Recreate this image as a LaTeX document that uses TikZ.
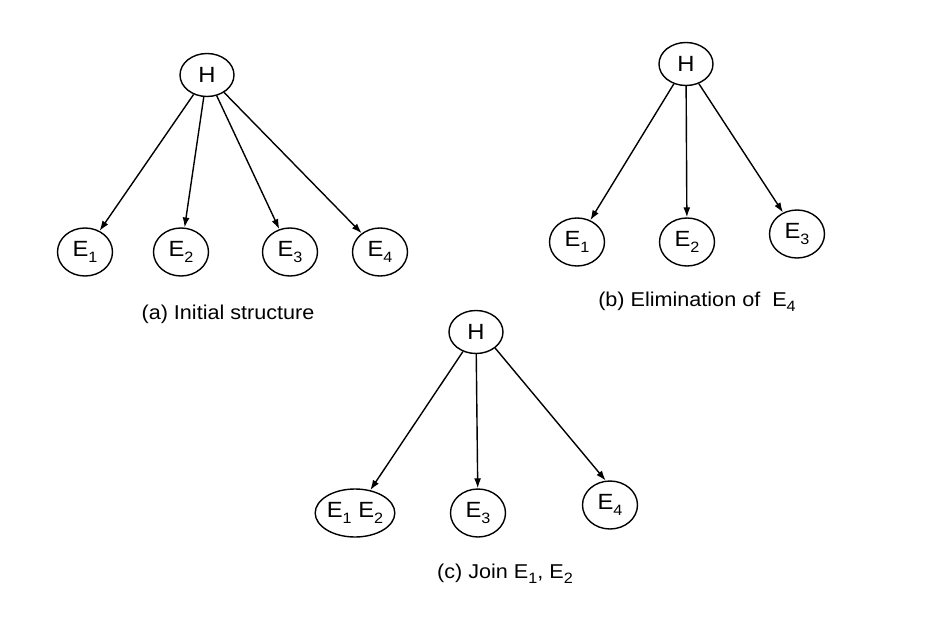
\documentclass[tikz,border=0pt]{standalone}
\usepackage{fontspec}
\setmainfont[FakeStretch=1.08]{Liberation Sans}
\usetikzlibrary{arrows.meta,shapes.geometric}
\newcommand{\lo}[1]{\raisebox{-0.45ex}{\fontsize{15}{15}\selectfont #1}}
\begin{document}
\begin{tikzpicture}[x=1pt,y=-1pt,
  ent/.style={ellipse,draw,line width=1.4pt,minimum width=55pt,minimum height=48pt,inner sep=0pt,font=\fontsize{22}{24}\selectfont},
  hyp/.style={ent,minimum width=54pt,minimum height=43pt},
  link/.style={draw,line width=1.4pt,-{Latex[length=10pt,width=7pt]}},
  captext/.style={font=\fontsize{20}{22}\selectfont,inner sep=0pt}]
\fill[white] (0,0) rectangle (937,629);
\useasboundingbox (0,0) rectangle (937,629);
% (a)
\node[hyp] (aH) at (207,75) {H};
\node[ent] (aE1) at (85,252) {E\lo{1}};
\node[ent] (aE2) at (181,252) {E\lo{2}};
\node[ent] (aE3) at (290,252) {E\lo{3}};
\node[ent] (aE4) at (380,252) {E\lo{4}};
\draw[link] (aH) -- (aE1);
\draw[link] (aH) -- (aE2);
\draw[link] (aH) -- (aE3);
\draw[link] (aH) -- (aE4);
\node[captext] (capa) at (228,314) {(a) Initial structure};
% (b)
\node[hyp] (bH) at (686,64) {H};
\node[ent] (bE1) at (577,242) {E\lo{1}};
\node[ent] (bE2) at (687,242) {E\lo{2}};
\node[ent] (bE3) at (797,234) {E\lo{3}};
\draw[link] (bH) -- (bE1);
\draw[link] (bH) -- (bE2);
\draw[link] (bH) -- (bE3);
\node[captext] (capb) at (697,302) {(b) Elimination of \ E\lo{4}};
% (c)
\node[hyp] (cH) at (476,332) {H};
\node[ent,minimum width=58pt,minimum height=48pt] (cE12) at (355,513) {E\lo{1} E\lo{2}};
\node[ent] (cE3) at (478,513) {E\lo{3}};
\node[ent] (cE4) at (610,505) {E\lo{4}};
\draw[link] (cH) -- (cE12);
\draw[link] (cH) -- (cE3);
\draw[link] (cH.-40) -- (cE4.100);
\node[captext] (capc) at (505,574) {(c) Join E\lo{1}, E\lo{2}};
\end{tikzpicture}
\end{document}
